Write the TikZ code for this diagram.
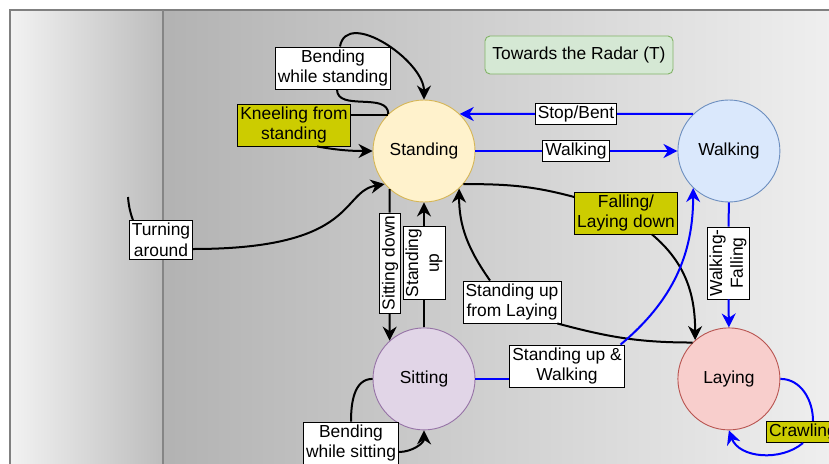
\documentclass[tikz,border=0pt]{standalone}
\usepackage{fontspec}
\setmainfont{Liberation Sans}
\usepackage{xcolor}
\usepackage{tikz}
\usetikzlibrary{positioning,calc,arrows.meta}

\definecolor{standfill}{HTML}{FFF2CC}
\definecolor{standline}{HTML}{D6B656}
\definecolor{walkfill}{HTML}{DAE8FC}
\definecolor{walkline}{HTML}{6C8EBF}
\definecolor{sitfill}{HTML}{E1D5E7}
\definecolor{sitline}{HTML}{9673A6}
\definecolor{layfill}{HTML}{F8CECC}
\definecolor{layline}{HTML}{B85450}
\definecolor{radarfill}{HTML}{D5E8D4}
\definecolor{radarline}{HTML}{82B366}
\definecolor{hotyellow}{HTML}{CCCC00}

\begin{document}
\begin{tikzpicture}[
    x=1pt, y=1pt,
    every node/.style={font=\fontsize{17.4}{20.9}\selectfont},
    state/.style={circle, draw, line width=0.9pt, minimum size=102pt, inner sep=0pt},
    tag/.style={rectangle, draw=black, line width=0.8pt, fill=white, inner sep=2.5pt, align=center},
    hot/.style={tag, fill=hotyellow},
    link/.style={line width=2pt},
    trans/.style={link, -{Stealth[length=14pt, width=14pt, inset=4.5pt]}},
    bluelink/.style={link, draw=blue},
    bluetrans/.style={trans, draw=blue}
]
    \useasboundingbox (0,0) rectangle (829,-463);
    \fill[left color=black!5, right color=black!26] (10,-10) rectangle (163,-470);
    \fill[left color=black!30, right color=black!6] (163,-10) rectangle (840,-470);
    \draw[black!50, line width=1.3pt] (10,-470) -- (10,-10) -- (840,-10);
    \draw[black!48, line width=2.5pt] (163,-10) -- (163,-470);

    \node[state, fill=standfill, draw=standline] (stand) at (424,-151) {Standing};
    \node[state, fill=walkfill, draw=walkline, right=202pt of stand] (walk) {Walking};
    \node[state, fill=sitfill, draw=sitline, below=125pt of stand] (sit) {Sitting};
    \node[state, fill=layfill, draw=layline, below=125pt of walk] (lay) {Laying};
    \node[draw=radarline, fill=radarfill, line width=0.9pt, rounded corners=5pt,
          minimum width=188pt, minimum height=38pt] (radar) at (579,-55) {Towards the Radar (T)};

    \node[tag] (bwstand) at (333,-68) {Bending\\while standing};
    \node[hot] (kneel) at (294,-125) {Kneeling from\\standing};
    \node[tag] (turn) at (161,-240) {Turning\\around};
    \node[tag, rotate=90] (sitdown) at (390,-263) {Sitting down};
    \node[tag, rotate=90] (standup) at (424,-263) {Standing\\up};
    \node[tag] (uplay) at (512,-302) {Standing up\\from Laying};
    \node[hot] (fall) at (626,-213) {Falling/\\Laying down};
    \node[tag] (stop) at (576,-114) {Stop/Bent};
    \node[tag] (walking) at (576,-151) {Walking};
    \node[tag, rotate=90] (walkfall) at (728,-263) {Walking-\\Falling};
    \node[tag] (upwalk) at (567,-366) {Standing up \&\\Walking};
    \node[hot] (crawl) at (803,-432) {Crawling};
    \node[tag] (bwsit) at (351,-443) {Bending\\while sitting};
    \coordinate (turnstart) at (128,-197);

    \draw[link] (stand.134) to[out=90, in=-90] ([xshift=4pt]bwstand.south);
    \draw[trans] ([xshift=7pt]bwstand.north) to[out=80, in=90] (stand.north);
    \draw[link] (stand.135) -- (stand.135 -| kneel.east);
    \draw[trans] ([xshift=23pt]kneel.south) to[out=-10, in=180] (stand.west);
    \draw[link] (turnstart) to[out=-85, in=110] ([xshift=-28pt]turn.north);
    \draw[trans] ([yshift=-9pt]turn.east) to[out=0, in=190, out distance=165pt, in distance=45pt] (stand.220);
    \draw[link] (stand.228) -- (sitdown);
    \draw[trans] (sitdown) -- (sit.132);
    \draw[link] (sit.north) -- (standup);
    \draw[trans] (standup) -- (stand.south);
    \draw[link] (lay.135) to[out=180, in=-15] ([xshift=-4pt]uplay.south east);
    \draw[trans] ([xshift=-22pt]uplay.north) to[out=125, in=-90] (stand.313);
    \draw[link] (stand.320) to[out=0, in=165] ([yshift=16pt]fall.west);
    \draw[trans] ([xshift=26pt]fall.south) to[out=-40, in=90] (lay.131);
    \draw[link] (sit.west) to[out=180, in=90] (bwsit.north);
    \draw[trans] ([yshift=-9pt]bwsit.east) to[out=0, in=-90] (sit.south);

    \draw[bluelink] (walk.134) -- (stop);
    \draw[bluetrans] (stop) -- (stand.46);
    \draw[bluelink] (stand.east) -- (walking);
    \draw[bluetrans] (walking) -- (walk.west);
    \draw[bluelink] (walk.south) -- (walkfall);
    \draw[bluetrans] (walkfall) -- (lay.north);
    \draw[bluelink] (sit.east) -- (sit.east -| upwalk.west);
    \draw[bluetrans] ([xshift=-4pt]upwalk.north east) to[out=40, in=-90] (walk.226);
    \draw[bluelink] (lay.east) to[out=0, in=90] ([xshift=10pt]crawl.north);
    \draw[bluetrans] (crawl.south) to[out=-140, in=-70] (lay.south);
\end{tikzpicture}
\end{document}
